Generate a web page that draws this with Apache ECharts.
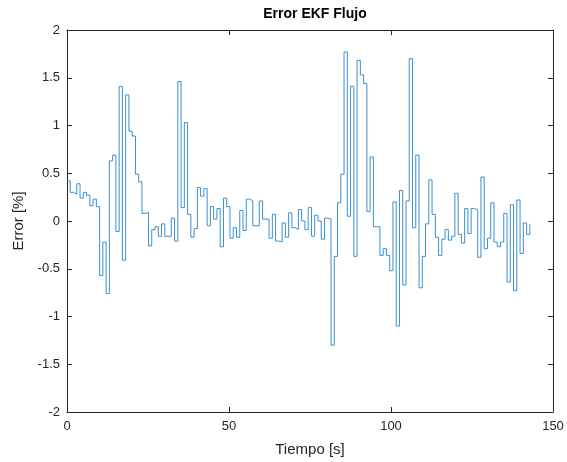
<!DOCTYPE html>
<html>
<head>
<meta charset="utf-8">
<script src="https://cdn.jsdelivr.net/npm/echarts@6/dist/echarts.min.js"></script>
<style>
html,body{margin:0;padding:0;background:#fff;}
#c{width:567px;height:462px;}
</style>
</head>
<body>
<div id="c"></div>
<script>
// Sample period of the logged signal [s]
const samplePeriod = 1.006;
// Error values [%], one per sample (held until the next sample)
const errorValues = [
  0.42, 0.30, 0.28, 0.39, 0.24, 0.30, 0.27, 0.16, 0.23, 0.15,
  -0.57, -0.22, -0.76, 0.63, 0.69, -0.11, 1.41, -0.41, 1.32, 0.94,
  0.89, 0.49, 0.41, 0.08, 0.09, -0.26, -0.09, -0.06, -0.16, -0.03,
  -0.16, -0.16, 0.03, -0.21, 1.46, 0.14, 1.03, 0.07, -0.17, -0.08,
  0.35, 0.26, 0.34, -0.05, 0.15, 0.02, 0.13, -0.27, 0.24, 0.15,
  -0.18, -0.07, -0.17, 0.11, -0.10, 0.23, 0.21, -0.05, -0.05, 0.21,
  0.02, 0.02, -0.18, 0.07, -0.21, -0.22, -0.02, -0.17, 0.085, -0.07,
  -0.09, 0.12, 0.00, -0.09, 0.14, -0.16, 0.06, 0.00, -0.19, 0.03,
  0.02, -1.30, -0.37, 0.19, 0.49, 1.77, 0.05, 1.41, -0.37, 1.68,
  1.53, 1.44, 0.10, 0.67, -0.06, -0.06, -0.36, -0.29, -0.36, -0.52,
  0.20, -1.10, 0.32, -0.67, 0.21, 1.70, -0.07, 0.69, -0.70, -0.37,
  -0.03, 0.43, 0.07, -0.17, -0.36, -0.19, -0.09, -0.20, -0.16, 0.29,
  -0.14, -0.23, 0.13, -0.13, 0.13, 0.12, -0.38, 0.46, -0.29, -0.18,
  0.19, -0.22, -0.27, -0.22, 0.08, -0.64, 0.17, -0.73, 0.22, -0.34,
  -0.02, -0.14, -0.03
];
const xTicks = [0, 50, 100, 150];
const yTicks = [-2, -1.5, -1, -0.5, 0, 0.5, 1, 1.5, 2];
const titleText = 'Error EKF Flujo';
const xName = 'Tiempo [s]';
const yName = 'Error [%]';

const seriesData = errorValues.map((v, k) => [k * samplePeriod, v]);

const axisColor = '#262626';
const font = 'Liberation Sans, Arial, Helvetica, sans-serif';

const chart = echarts.init(document.getElementById('c'), null, {renderer: 'canvas'});
chart.setOption({
  animation: false,
  backgroundColor: '#ffffff',
  title: {
    text: titleText,
    left: 310,
    textAlign: 'center',
    top: 2,
    textStyle: {fontFamily: font, fontSize: 14, fontWeight: 'bold', color: '#000'}
  },
  grid: {left: 67, right: 14, top: 30, bottom: 49, containLabel: false},
  xAxis: [{
    type: 'value',
    min: xTicks[0], max: xTicks[xTicks.length - 1], interval: 50,
    name: xName, nameLocation: 'middle', nameGap: 30,
    nameTextStyle: {fontFamily: font, fontSize: 15, color: axisColor},
    axisLine: {show: true, onZero: false, lineStyle: {color: axisColor, width: 1}},
    axisTick: {show: true, inside: true, length: 5, lineStyle: {color: axisColor}},
    axisLabel: {fontFamily: font, fontSize: 13, color: axisColor, margin: 8},
    splitLine: {show: false}
  }, {
    type: 'value', position: 'top',
    min: xTicks[0], max: xTicks[xTicks.length - 1], interval: 50,
    axisLine: {show: true, onZero: false, lineStyle: {color: axisColor, width: 1}},
    axisTick: {show: true, inside: true, length: 5, lineStyle: {color: axisColor}},
    axisLabel: {show: false},
    splitLine: {show: false}
  }],
  yAxis: [{
    type: 'value',
    min: yTicks[0], max: yTicks[yTicks.length - 1], interval: 0.5,
    name: yName, nameLocation: 'middle', nameGap: 37,
    nameTextStyle: {fontFamily: font, fontSize: 15, color: axisColor},
    axisLine: {show: true, onZero: false, lineStyle: {color: axisColor, width: 1}},
    axisTick: {show: true, inside: true, length: 5, lineStyle: {color: axisColor}},
    axisLabel: {fontFamily: font, fontSize: 13, color: axisColor, margin: 7},
    splitLine: {show: false}
  }, {
    type: 'value', position: 'right',
    min: yTicks[0], max: yTicks[yTicks.length - 1], interval: 0.5,
    axisLine: {show: true, onZero: false, lineStyle: {color: axisColor, width: 1}},
    axisTick: {show: true, inside: true, length: 5, lineStyle: {color: axisColor}},
    axisLabel: {show: false},
    splitLine: {show: false}
  }],
  series: [{
    type: 'line',
    xAxisIndex: 0, yAxisIndex: 0,
    data: seriesData,
    step: 'end',
    showSymbol: false,
    symbol: 'none',
    lineStyle: {color: '#3a8fd0', width: 1},
    silent: true
  }]
});
</script>
</body>
</html>
